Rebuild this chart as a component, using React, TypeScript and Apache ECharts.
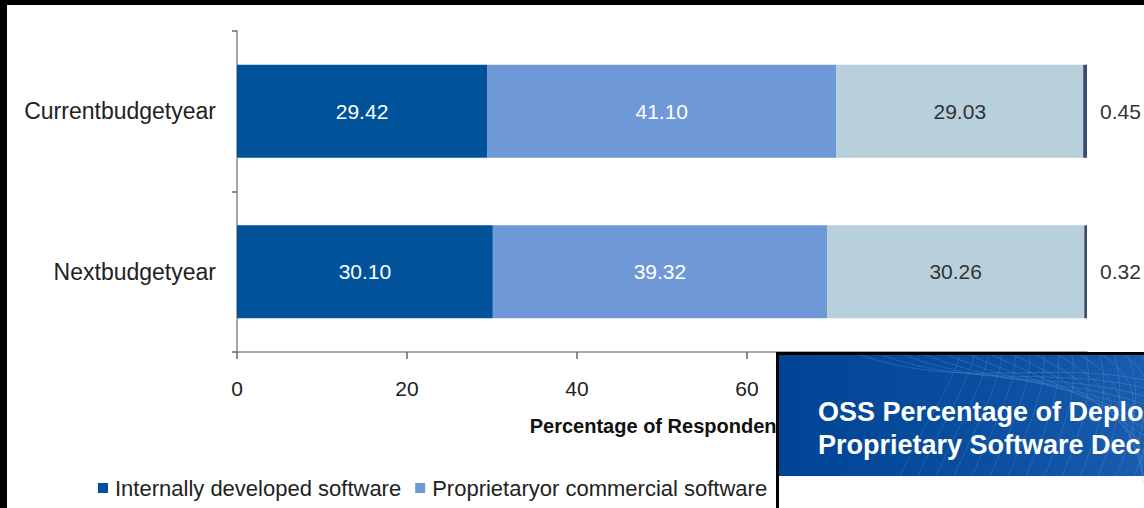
import React, { useEffect, useRef } from "react";
import * as echarts from "echarts";

const categories = ["Currentbudgetyear", "Nextbudgetyear"];
const seriesNames = [
  "Internally developed software",
  "Proprietaryor commercial software",
  "Open source software",
  "Other",
];
const internalValues = [29.42, 30.1];
const proprietaryValues = [41.1, 39.32];
const openSourceValues = [29.03, 30.26];
const otherValues = [0.45, 0.32];
const xTicks = [0, 20, 40, 60, 80, 100];
const visibleTickMax = 60;
const colors = ["#00529B", "#6F98D6", "#B8CFDC", "#3B4C6C"];
const bannerLines = ["OSS Percentage of Deplo", "Proprietary Software Dec"];

const FONT = "Liberation Sans, Arial, sans-serif";

export default function App() {
  const ref = useRef<HTMLDivElement>(null);
  useEffect(() => {
    if (!ref.current) return;
    const chart = echarts.init(ref.current, undefined, { renderer: "svg" });
    const valueSets = [internalValues, proprietaryValues, openSourceValues, otherValues];
    const labelColors = ["#FFFFFF", "#FFFFFF", "#333333", "#333333"];

    const series = valueSets.map((vals, i) => ({
      name: seriesNames[i],
      type: "bar",
      stack: "total",
      barWidth: 93,
      data: vals,
      itemStyle: { color: colors[i] },
      label: {
        show: true,
        position: i === 3 ? "right" : "inside",
        distance: 13,
        color: labelColors[i],
        fontFamily: FONT,
        fontSize: 21,
        formatter: (p: any) => Number(p.value).toFixed(2),
      },
    }));

    // decorative mesh lines in the banner
    const mesh: any[] = [];
    for (let k = 0; k < 14; k++) {
      mesh.push({
        type: "bezierCurve",
        z: 102,
        silent: true,
        shape: {
          x1: 860 + k * 22,
          y1: 355,
          x2: 1144,
          y2: 380 + k * 8,
          cpx1: 960 + k * 18,
          cpy1: 390,
          cpx2: 1050 + k * 6,
          cpy2: 360 + k * 6,
        },
        style: { stroke: "rgba(120,170,230,0.25)", lineWidth: 1, fill: null },
      });
      mesh.push({
        type: "bezierCurve",
        z: 102,
        silent: true,
        shape: {
          x1: 900 + k * 18,
          y1: 476,
          x2: 960 + k * 14,
          y2: 355,
          cpx1: 920 + k * 18,
          cpy1: 430,
          cpx2: 950 + k * 16,
          cpy2: 390,
        },
        style: { stroke: "rgba(120,170,230,0.22)", lineWidth: 1, fill: null },
      });
    }

    chart.setOption({
      animation: false,
      backgroundColor: "#FFFFFF",
      textStyle: { fontFamily: FONT },
      grid: { left: 237, right: 57, top: 31, bottom: 156, containLabel: false },
      legend: {
        data: seriesNames.slice(0, 2),
        left: 98,
        top: 477,
        padding: 0,
        icon: "rect",
        itemWidth: 10,
        itemHeight: 10,
        itemGap: 14,
        textStyle: { color: "#222", fontSize: 22, fontFamily: FONT, padding: [0, 0, 0, 2] },
      },
      xAxis: {
        type: "value",
        min: xTicks[0],
        max: xTicks[xTicks.length - 1],
        interval: 20,
        name: "Percentage of Respondents",
        nameLocation: "middle",
        nameGap: 64,
        nameTextStyle: { color: "#111", fontSize: 20, fontWeight: "bold", fontFamily: FONT },
        axisLine: { show: true, lineStyle: { color: "#8A8A8A", width: 1.5 } },
        axisTick: { show: true, length: 7, lineStyle: { color: "#666", width: 1.5 } },
        axisLabel: {
          color: "#222",
          fontSize: 21,
          margin: 26,
          fontFamily: FONT,
          formatter: (v: number) => (v > visibleTickMax ? "" : String(v)),
        },
        splitLine: { show: false },
      },
      yAxis: {
        type: "category",
        data: categories,
        inverse: true,
        axisLine: { show: true, lineStyle: { color: "#8A8A8A", width: 1.5 } },
        axisTick: { show: true, length: 5, lineStyle: { color: "#666", width: 1.5 } },
        axisLabel: { color: "#222", fontSize: 23, margin: 21, fontFamily: FONT },
      },
      series,
      graphic: [
        { type: "rect", z: 100, silent: true, shape: { x: 0, y: 0, width: 1144, height: 5 }, style: { fill: "#000" } },
        { type: "rect", z: 100, silent: true, shape: { x: 0, y: 0, width: 7, height: 508 }, style: { fill: "#000" } },
        { type: "rect", z: 100, silent: true, shape: { x: 776, y: 352, width: 368, height: 156 }, style: { fill: "#000" } },
        { type: "rect", z: 101, silent: true, shape: { x: 779, y: 355, width: 365, height: 153 }, style: { fill: "#FFFFFF" } },
        {
          type: "rect",
          z: 101,
          silent: true,
          shape: { x: 779, y: 355, width: 365, height: 121 },
          style: {
            fill: new echarts.graphic.LinearGradient(0, 0, 1, 0, [
              { offset: 0, color: "#004595" },
              { offset: 0.6, color: "#0B4FA0" },
              { offset: 1, color: "#1A5DAE" },
            ]),
          },
        },
        ...mesh,
        {
          type: "text",
          z: 103,
          silent: true,
          x: 818,
          y: 398,
          style: {
            text: bannerLines[0],
            fill: "#FFFFFF",
            font: `bold 27px ${FONT}`,
          },
        },
        {
          type: "text",
          z: 103,
          silent: true,
          x: 818,
          y: 431,
          style: {
            text: bannerLines[1],
            fill: "#FFFFFF",
            font: `bold 27px ${FONT}`,
          },
        },
      ],
    });
    return () => chart.dispose();
  }, []);

  return (
    <div
      ref={ref}
      style={{ position: "absolute", left: 0, top: 0, width: 1144, height: 508 }}
    />
  );
}
